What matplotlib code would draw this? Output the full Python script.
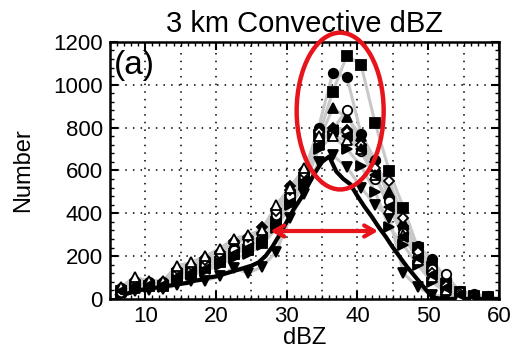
import numpy as np
import matplotlib
matplotlib.use("Agg")
import matplotlib.pyplot as plt
from matplotlib.patches import Ellipse
from matplotlib.ticker import MultipleLocator

plt.rcParams['font.family'] = ['Liberation Sans', 'DejaVu Sans']

# bin centres (dBZ) for the ensemble members
dbz = [6.5, 8.5, 10.5, 12.5, 14.5, 16.5, 18.5, 20.5, 22.5, 24.5, 26.5, 28.5, 30.5, 32.5,
       34.5, 36.5, 38.5, 40.5, 42.5, 44.5, 46.5, 48.5, 50.5, 52.5, 54.5, 56.5, 58.5]

# observations (thick black line), 1 dBZ bins
obs_dbz = [6, 7, 8, 9, 10, 11, 12, 13, 14, 15, 16, 17, 18, 19, 20, 21, 22, 23, 24, 25,
           26, 27, 28, 29, 30, 31, 32, 33, 34, 35, 36, 37, 38, 39, 40, 41, 42, 43, 44,
           45, 46, 47, 48, 49, 50, 51, 52, 53, 54, 55, 56, 57, 58, 59, 60]
obs = [15, 20, 30, 40, 45, 50, 55, 60, 65, 70, 75, 85, 90, 100, 105, 115, 125, 135, 145, 155,
       170, 200, 245, 300, 360, 420, 470, 530, 590, 640, 665, 595, 560, 535, 480, 430, 385, 335, 290,
       240, 195, 150, 110, 70, 30, 5, 0, 0, 0, 0, 0, 0, 0, 0, 0]

# ensemble members (grey lines + black symbols)
m1 = [35, 60, 60, 60, 110, 120, 150, 170, 210, 230, 260, 360, 460, 560,
      760, 967, 1136, 1094, 820, 596, 425, 240, 150, 70, 30, 15, 8]
m2 = [50, 55, 80, 80, 130, 140, 175, 200, 240, 260, 300, 400, 500, 590,
      800, 1055, 1037, 770, 650, 470, 330, 247, 185, 95, 38, 22, 12]
m3 = [30, 50, 65, 65, 105, 130, 150, 180, 220, 250, 290, 380, 470, 560,
      740, 889, 850, 760, 620, 500, 360, 215, 140, 75, 30, 15, 8]
m4 = [20, 35, 40, 45, 65, 85, 85, 105, 145, 120, 150, 220, 380, 490,
      640, 670, 615, 520, 440, 380, 120, 55, 20, 8, 5, 5, 3]
m5 = [25, 45, 55, 55, 90, 110, 130, 160, 190, 210, 250, 330, 440, 530,
      700, 760, 701, 620, 500, 335, 250, 160, 80, 30, 10, 8, 5]
m6 = [40, 70, 75, 75, 140, 150, 190, 220, 260, 280, 334, 420, 527, 600,
      790, 800, 790, 720, 640, 470, 340, 230, 130, 60, 25, 12, 6]
m7 = [30, 70, 70, 70, 120, 130, 160, 190, 230, 260, 290, 390, 480, 570,
      730, 790, 884, 690, 560, 456, 310, 200, 140, 115, 30, 15, 8]
m8 = [45, 90, 70, 70, 140, 160, 180, 210, 270, 290, 310, 410, 510, 590,
      780, 780, 780, 720, 610, 550, 380, 220, 120, 60, 25, 12, 6]
m9 = [55, 100, 85, 85, 155, 171, 200, 235, 280, 300, 320, 440, 520, 610,
      760, 760, 740, 700, 580, 420, 300, 180, 100, 40, 15, 8, 5]
m10 = [35, 60, 65, 65, 100, 120, 140, 180, 210, 240, 280, 350, 450, 550,
       720, 790, 760, 700, 580, 430, 290, 190, 110, 50, 20, 10, 5]

members = [m1, m2, m3, m4, m5, m6, m7, m8, m9, m10]
symbols = ['s', 'o', '^', 'v', '>', 'D', 'o', 'D', '^', '<']
filled = [True, True, True, True, True, True, False, False, False, True]

fig = plt.figure(figsize=(5.16, 3.61), dpi=100)
ax = fig.add_axes([0.213, 0.172, 0.754, 0.712])

for m in members:
    ax.plot(dbz, m, color='#c8c8c8', lw=2.2, zorder=2)
ax.plot(obs_dbz, obs, color='black', lw=3, zorder=3)
for m, s, f in zip(members, symbols, filled):
    ax.plot(dbz, m, ls='none', marker=s, ms=6.8 if s != 'D' else 5.5,
            mfc='black' if f else 'white', mec='black', mew=1.3, zorder=4)

ax.set_xlim(5, 60)
ax.set_ylim(0, 1200)
ax.xaxis.set_major_locator(MultipleLocator(10))
ax.xaxis.set_minor_locator(MultipleLocator(1))
ax.yaxis.set_major_locator(MultipleLocator(200))
ax.yaxis.set_minor_locator(MultipleLocator(40))
for x in range(10, 60, 5):
    ax.axvline(x, color='black', lw=1.1, ls=(0, (1, 4)), zorder=1)
for y in range(200, 1200, 200):
    ax.axhline(y, color='black', lw=1.1, ls=(0, (1, 4)), zorder=1)

ax.tick_params(which='both', direction='in', top=True, right=True, labelsize=16, pad=5)
ax.tick_params(which='major', length=6, width=1.5)
ax.tick_params(which='minor', length=3, width=1)
for sp in ax.spines.values():
    sp.set_linewidth(1.8)

ax.set_title('3 km Convective dBZ', fontsize=21, pad=7)
ax.set_xlabel('dBZ', fontsize=17, labelpad=0)
ax.set_ylabel('Number', fontsize=17, labelpad=14)
ax.text(0.01, 0.97, '(a)', transform=ax.transAxes, fontsize=24, va='top', ha='left', zorder=6)

# red highlights
ax.add_patch(Ellipse((37.55, 877), 12.3, 732, fill=False, ec='#e8141b', lw=3.2,
                     clip_on=False, zorder=7))
ax.annotate('', xy=(27.3, 317), xytext=(43.3, 317),
            arrowprops=dict(arrowstyle='<->,head_length=0.7,head_width=0.4',
                            color='#e8141b', lw=3), zorder=7)

fig.savefig('out.png', dpi=100)
